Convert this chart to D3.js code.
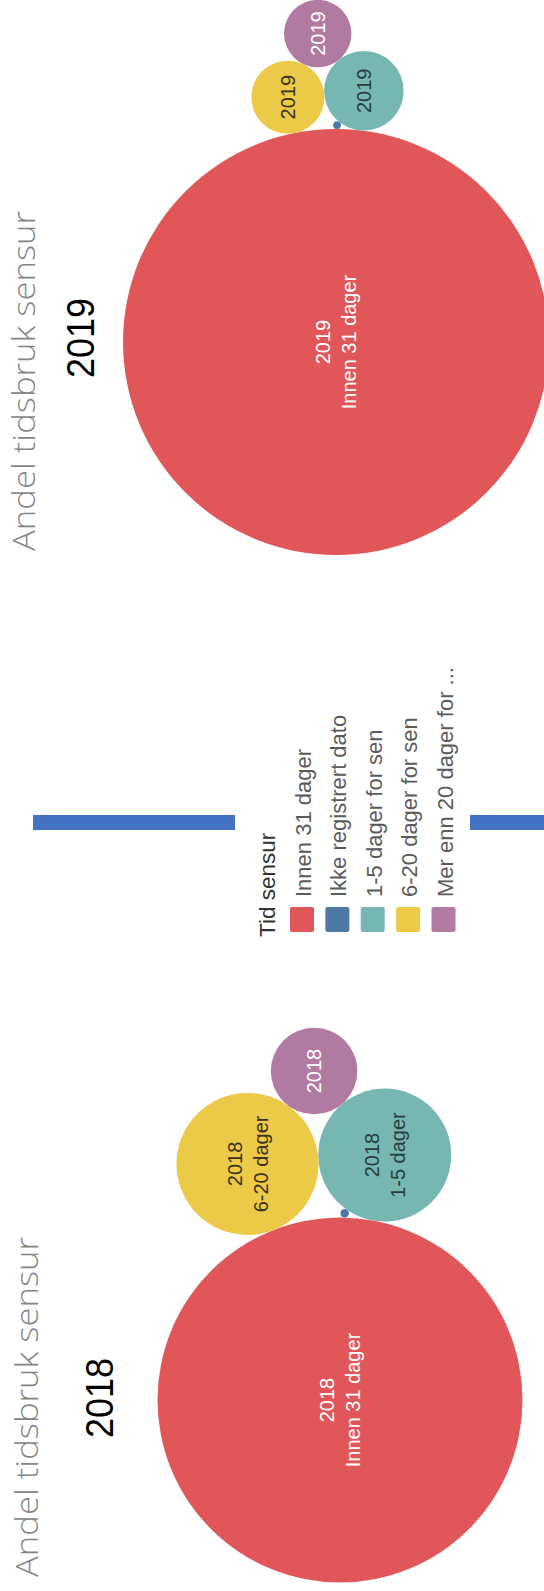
<!DOCTYPE html>
<html>
<head>
<meta charset="utf-8">
<script src="https://cdn.jsdelivr.net/npm/d3@7"></script>
<style>
  html, body { margin: 0; padding: 0; background: #ffffff; }
  svg { display: block; }
</style>
</head>
<body>
<svg id="chart" width="544" height="1591"></svg>
<script>
// ---------------- DATA ----------------
const categories = ["Innen 31 dager", "Ikke registrert dato", "1-5 dager for sen", "6-20 dager for sen", "Mer enn 20 dager for sen"];
const legendLabels = ["Innen 31 dager", "Ikke registrert dato", "1-5 dager for sen", "6-20 dager for sen", "Mer enn 20 dager for ..."];
const bubbleLabels = ["Innen 31 dager", "", "1-5 dager", "6-20 dager", ""];
const years = ["2018", "2019"];
// share of cases (%) per category
const share2018 = [74.6, 0.04, 9.9, 11.3, 4.2];
const share2019 = [91.8, 0.03, 3.2, 2.7, 2.3];
const colors = ["#e15759", "#4e79a7", "#76b7b2", "#edc948", "#b07aa1"];
const textColors = ["#ffffff", "#ffffff", "#26403e", "#3a3320", "#ffffff"];
const chartTitle = "Andel tidsbruk sensur";
const legendTitle = "Tid sensur";

// ---------------- LAYOUT ----------------
const svg = d3.select("#chart");

const panels = [
  { year: years[0], values: share2018, rMax: 211.3, anchor: [340, 1400], rot: -3.7,
    titleX: 38, titleY: 1407, yearX: 113, yearY: 1398 },
  { year: years[1], values: share2019, rMax: 222.3, anchor: [336, 342], rot: -4.8,
    titleX: 34.5, titleY: 381, yearX: 93.5, yearY: 338 }
];

function layout(p) {
  const r = d3.scaleSqrt().domain([0, 100]).range([0, p.rMax]);
  const nodes = categories.map((c, i) => ({ i, cat: c, v: p.values[i], r: r(p.values[i]) }));
  // packing order as in the reference: 6-20, 1-5, >20, innen 31
  const packed = [3, 2, 4, 0].map(i => nodes[i]);
  d3.packSiblings(packed);
  const th = p.rot * Math.PI / 180, c = Math.cos(th), s = Math.sin(th);
  packed.forEach(n => { const x = n.x, y = -n.y; n.x = x * c - y * s; n.y = x * s + y * c; });
  const ox = nodes[0].x, oy = nodes[0].y;
  packed.forEach(n => { n.x = n.x - ox + p.anchor[0]; n.y = n.y - oy + p.anchor[1]; });
  // tiny "ikke registrert" bubble: tangent to red and teal, in the gap toward yellow
  const b = nodes[1], A = nodes[0], B = nodes[2], Y = nodes[3];
  const ra = A.r + b.r, rb = B.r + b.r;
  const dx = B.x - A.x, dy = B.y - A.y, d = Math.hypot(dx, dy);
  const a = (ra * ra - rb * rb + d * d) / (2 * d);
  const h = Math.sqrt(Math.max(0, ra * ra - a * a));
  const mx = A.x + a * dx / d, my = A.y + a * dy / d;
  const c1 = { x: mx - h * dy / d, y: my + h * dx / d };
  const c2 = { x: mx + h * dy / d, y: my - h * dx / d };
  const pick = Math.hypot(c1.x - Y.x, c1.y - Y.y) < Math.hypot(c2.x - Y.x, c2.y - Y.y) ? c1 : c2;
  b.x = pick.x; b.y = pick.y;
  return nodes;
}

panels.forEach(p => {
  const nodes = layout(p);
  const g = svg.append("g").attr("class", "panel");

  g.selectAll("circle.bubble")
    .data(nodes)
    .join("circle")
    .attr("class", "bubble")
    .attr("cx", d => d.x)
    .attr("cy", d => d.y)
    .attr("r", d => d.r)
    .attr("fill", d => colors[d.i]);

  const lab = g.selectAll("g.lab")
    .data(nodes.filter(d => d.r > 20))
    .join("g")
    .attr("class", "lab")
    .attr("transform", d => `translate(${d.x},${d.y}) rotate(-90)`);

  lab.each(function (d) {
    const sel = d3.select(this);
    const lines = d.r > 50 && bubbleLabels[d.i] ? [p.year, bubbleLabels[d.i]] : [p.year];
    const off = (lines.length - 1) * 13;
    lines.forEach((t, k) => {
      sel.append("text")
        .attr("x", 0)
        .attr("y", -off + k * 26)
        .attr("text-anchor", "middle")
        .attr("dominant-baseline", "central")
        .attr("font-family", "'Liberation Sans', Arial, sans-serif")
        .attr("font-size", 20)
        .attr("fill", textColors[d.i])
        .text(t);
    });
  });

  // panel title
  svg.append("text")
    .attr("transform", `translate(${p.titleX},${p.titleY}) rotate(-90)`)
    .attr("text-anchor", "middle")
    .attr("font-family", "'Open Sans', Lato, sans-serif")
    .attr("font-weight", 300)
    .attr("font-size", 31)
    .attr("fill", "#858585")
    .attr("textLength", 340)
    .attr("lengthAdjust", "spacingAndGlyphs")
    .text(chartTitle);

  svg.append("text")
    .attr("transform", `translate(${p.yearX},${p.yearY}) rotate(-90)`)
    .attr("text-anchor", "middle")
    .attr("font-family", "'Liberation Sans', Arial, sans-serif")
    .attr("font-size", 38)
    .attr("fill", "#000000")
    .attr("textLength", 80)
    .attr("lengthAdjust", "spacingAndGlyphs")
    .text(p.year);
});

// ---------------- LEGEND ----------------
const lx = d3.scalePoint().domain(categories).range([302, 443.5]);
const legend = svg.append("g").attr("class", "legend");

legend.append("text")
  .attr("transform", "translate(275,937) rotate(-90)")
  .attr("font-family", "'Liberation Sans', Arial, sans-serif")
  .attr("font-size", 22.5)
  .attr("fill", "#333333")
  .text(legendTitle);

legend.selectAll("rect.sw")
  .data(categories)
  .join("rect")
  .attr("class", "sw")
  .attr("x", d => lx(d) - 12)
  .attr("y", 907)
  .attr("width", 24)
  .attr("height", 25)
  .attr("rx", 2)
  .attr("fill", (d, i) => colors[i]);

legend.selectAll("text.item")
  .data(categories)
  .join("text")
  .attr("class", "item")
  .attr("transform", d => `translate(${lx(d) + 9},897) rotate(-90)`)
  .attr("font-family", "'Liberation Sans', Arial, sans-serif")
  .attr("font-size", 22)
  .attr("fill", "#5a5a5a")
  .text((d, i) => legendLabels[i]);

// decorative separator bars
const bars = [[33, 235], [470, 544]];
svg.selectAll("rect.sep")
  .data(bars)
  .join("rect")
  .attr("class", "sep")
  .attr("x", d => d[0])
  .attr("y", 815)
  .attr("width", d => d[1] - d[0])
  .attr("height", 15)
  .attr("fill", "#4472c4");
</script>
</body>
</html>
